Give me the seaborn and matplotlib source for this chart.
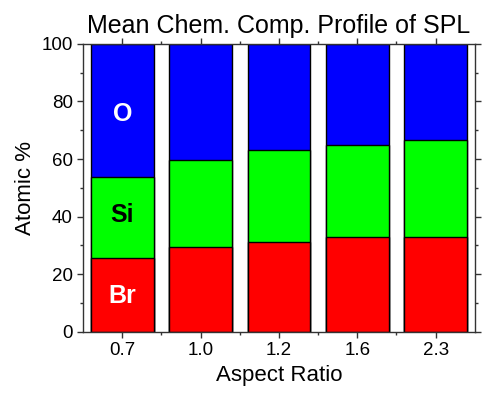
import numpy as np
import pandas as pd
import matplotlib.pyplot as plt
import seaborn as sns
from matplotlib.ticker import MultipleLocator

# Data
ratios = ['0.7', '1.0', '1.2', '1.6', '2.3']
br = [25.8, 29.4, 31.1, 32.9, 32.9]
si = [28.0, 30.4, 32.1, 31.8, 33.8]
o = [46.2, 40.2, 36.8, 35.3, 33.3]

sns.set_style('ticks')
plt.rcParams['font.family'] = ['Liberation Sans', 'DejaVu Sans']
plt.rcParams['text.color'] = 'black'
plt.rcParams['axes.labelcolor'] = 'black'
plt.rcParams['xtick.labelcolor'] = 'black'
plt.rcParams['ytick.labelcolor'] = 'black'

df = pd.DataFrame({'ratio': ratios, 'Br': br, 'Si': si, 'O': o})
df['Si_cum'] = df['Br'] + df['Si']
df['O_cum'] = df['Si_cum'] + df['O']

fig = plt.figure(figsize=(4.83, 3.95), dpi=100)
ax = fig.add_axes([0.172, 0.16, 0.811, 0.729])

# Stacked bars: draw cumulative totals from top layer down
for col, color in [('O_cum', '#0000ff'), ('Si_cum', '#00ff00'), ('Br', '#ff0000')]:
    sns.barplot(data=df, x='ratio', y=col, color=color, width=0.8,
                edgecolor='black', linewidth=1, saturation=1, ax=ax)

ax.set_xlim(-0.5, 4.5)
ax.set_ylim(0, 100)
ax.yaxis.set_major_locator(MultipleLocator(20))
ax.yaxis.set_minor_locator(MultipleLocator(10))
ax.set_xticks(np.arange(0.5, 4, 1), minor=True)

ax.tick_params(which='both', direction='out', top=True, right=True,
               labelsize=13.5, color='#333333', labelcolor='black', pad=3)
ax.tick_params(which='major', length=4.5, width=1)
ax.tick_params(which='minor', length=2.5, width=1)
for s in ax.spines.values():
    s.set_color('#333333')
    s.set_linewidth(1)

ax.set_title('Mean Chem. Comp. Profile of SPL', fontsize=18, pad=8, color='black')
ax.set_xlabel('Aspect Ratio', fontsize=16, labelpad=4, color='black')
ax.set_ylabel('Atomic %', fontsize=16, labelpad=4, color='black')

ax.text(0, 75.5, 'O', color='white', fontsize=18, fontweight='bold', ha='center', va='center')
ax.text(0, 40.7, 'Si', color='black', fontsize=18, fontweight='bold', ha='center', va='center')
ax.text(0, 12.4, 'Br', color='white', fontsize=18, fontweight='bold', ha='center', va='center')

plt.savefig('out.png', dpi=100)
